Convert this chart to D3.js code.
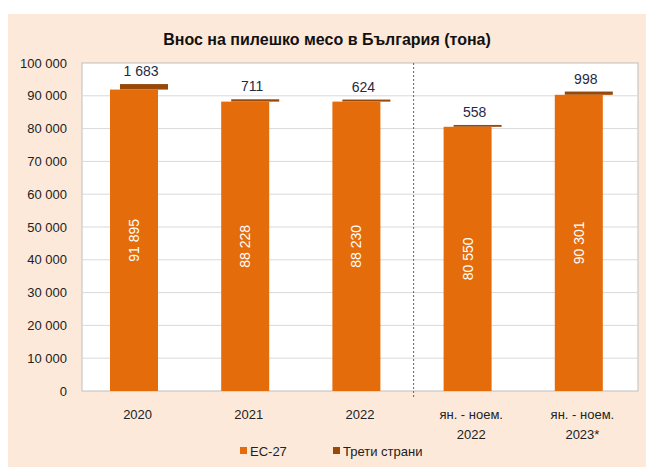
<!DOCTYPE html>
<html>
<head>
<meta charset="utf-8">
<script src="https://cdn.jsdelivr.net/npm/d3@7"></script>
<style>
  body { margin: 0; background: #fff; }
  text { font-family: "Liberation Sans Narrow", "Arial Narrow", "Liberation Sans", Arial, sans-serif; }
</style>
</head>
<body>
<script>
const categories = [["2020"], ["2021"], ["2022"], ["ян. - ноем.", "2022"], ["ян. - ноем.", "2023*"]];
const euValues = [91895, 88228, 88230, 80550, 90301];
const thirdValues = [1683, 711, 624, 558, 998];
const yTicks = [0, 10000, 20000, 30000, 40000, 50000, 60000, 70000, 80000, 90000, 100000];
const seriesNames = ["ЕС-27", "Трети страни"];
const title = "Внос на пилешко месо в България (тона)";

const W = 646, H = 469;
const plot = {left: 82, top: 63, right: 638, bottom: 391};
const fmt = v => d3.format(",")(v).replace(/,/g, " ");

const svg = d3.select("body").append("svg")
  .attr("width", W).attr("height", H);

svg.append("rect")
  .attr("x", 8).attr("y", 14).attr("width", W - 8).attr("height", 453)
  .attr("fill", "#fde9d9");

svg.append("text")
  .attr("x", 327).attr("y", 45)
  .attr("text-anchor", "middle")
  .attr("font-size", 16).attr("font-weight", "bold").attr("fill", "#111")
  .text(title);

const x = d3.scaleBand().domain(d3.range(categories.length))
  .range([plot.left, plot.right]);
const y = d3.scaleLinear().domain([0, 100000]).range([plot.bottom, plot.top]);

svg.append("rect")
  .attr("x", plot.left).attr("y", plot.top)
  .attr("width", plot.right - plot.left).attr("height", plot.bottom - plot.top)
  .attr("fill", "#fff").attr("stroke", "#bfbfbf");

// gridlines
svg.append("g").selectAll("line")
  .data(yTicks.slice(1, -1)).enter().append("line")
  .attr("x1", plot.left).attr("x2", plot.right)
  .attr("y1", d => y(d)).attr("y2", d => y(d))
  .attr("stroke", "#d9d9d9");

// y axis
const yAxis = svg.append("g")
  .attr("transform", `translate(${plot.left},0)`)
  .call(d3.axisLeft(y).tickValues(yTicks).tickFormat(fmt).tickSize(0).tickPadding(15));
yAxis.select(".domain").remove();
yAxis.selectAll("text").attr("font-size", 13).attr("fill", "#222")
  .style("font-family", "'Liberation Sans Narrow', 'Arial Narrow', sans-serif");

// divider
svg.append("line")
  .attr("x1", x(3) - 2).attr("x2", x(3) - 2)
  .attr("y1", plot.top).attr("y2", plot.bottom + 6)
  .attr("stroke", "#a0522d").attr("stroke-dasharray", "2,2");

const bw = 48;
// third countries bars (offset, stacked on top of EU)
svg.append("g").selectAll("rect")
  .data(thirdValues).enter().append("rect")
  .attr("x", (d, i) => x(i) + 38)
  .attr("width", bw)
  .attr("y", (d, i) => y(euValues[i] + d))
  .attr("height", (d, i) => y(euValues[i]) - y(euValues[i] + d))
  .attr("fill", "#984807");

svg.append("g").selectAll("rect")
  .data(euValues).enter().append("rect")
  .attr("x", (d, i) => x(i) + 28)
  .attr("width", bw)
  .attr("y", d => y(d))
  .attr("height", d => y(0) - y(d))
  .attr("fill", "#e46c0a");

// labels inside EU bars
svg.append("g").selectAll("text")
  .data(euValues).enter().append("text")
  .attr("transform", (d, i) => `translate(${x(i) + 28 + bw / 2 + 5},${(y(d) + y(0)) / 2}) rotate(-90)`)
  .attr("text-anchor", "middle")
  .attr("font-size", 14).attr("fill", "#fff")
  .text(fmt);

// labels above third bars
svg.append("g").selectAll("text")
  .data(thirdValues).enter().append("text")
  .attr("x", (d, i) => x(i) + 38 + bw / 2 - 3)
  .attr("y", (d, i) => y(euValues[i] + d) - 8)
  .attr("text-anchor", "middle")
  .attr("font-size", 14).attr("fill", "#1f2a44")
  .text(fmt);

// x labels
const xl = svg.append("g").selectAll("text")
  .data(categories).enter().append("text")
  .attr("x", (d, i) => x(i) + x.bandwidth() / 2)
  .attr("y", 419)
  .attr("text-anchor", "middle")
  .attr("font-size", 13).attr("fill", "#222");
xl.selectAll("tspan").data(d => d).enter().append("tspan")
  .attr("x", function () { return d3.select(this.parentNode).attr("x"); })
  .attr("dy", (d, j) => j === 0 ? 0 : 20)
  .text(d => d);

// legend
const legend = svg.append("g").selectAll("g")
  .data(seriesNames).enter().append("g")
  .attr("transform", (d, i) => `translate(${i === 0 ? 240 : 333},452)`);
legend.append("rect")
  .attr("x", 0).attr("y", -5).attr("width", 7).attr("height", 7)
  .attr("fill", (d, i) => i === 0 ? "#e46c0a" : "#984807");
legend.append("text")
  .attr("x", 10).attr("y", 4)
  .attr("font-size", 13).attr("fill", "#222")
  .text(d => d);
</script>
</body>
</html>
